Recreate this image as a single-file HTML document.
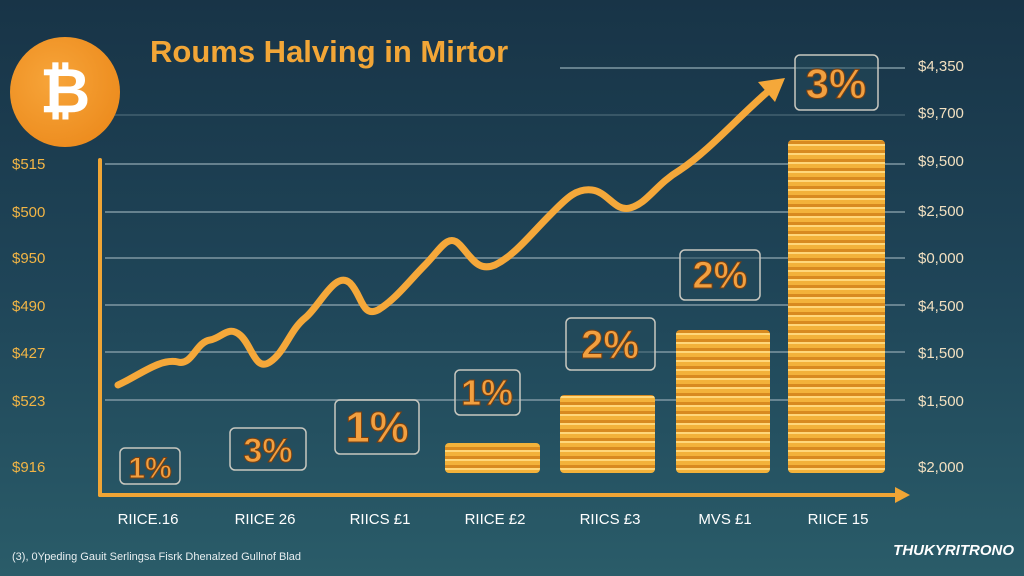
<!DOCTYPE html>
<html><head><meta charset="utf-8"><style>
html,body{margin:0;padding:0;}
body{width:1024px;height:576px;overflow:hidden;background:linear-gradient(180deg,#183447 0%,#1f4558 50%,#2a5c69 100%);font-family:"Liberation Sans",sans-serif;}
svg{position:absolute;left:0;top:0}
</style></head><body>
<svg width="1024" height="576" viewBox="0 0 1024 576">
<defs>
<pattern id="coins" width="10" height="9" patternUnits="userSpaceOnUse">
<rect width="10" height="9" fill="#f3b23a"/>
<rect y="0" width="10" height="2" fill="#ffd77a"/>
<rect y="6" width="10" height="3" fill="#d88a20"/>
</pattern>
<radialGradient id="btc" cx="0.4" cy="0.4" r="0.7"><stop offset="0" stop-color="#f7a53a"/><stop offset="1" stop-color="#ec8a1c"/></radialGradient>
</defs>
<!-- grid -->
<g stroke="#7f98a3" stroke-width="2" opacity="0.75">
<line x1="560" y1="68" x2="905" y2="68"/>
<line x1="105" y1="164" x2="905" y2="164"/>
<line x1="105" y1="212" x2="905" y2="212"/>
<line x1="105" y1="258" x2="905" y2="258"/>
<line x1="105" y1="305" x2="905" y2="305"/>
<line x1="105" y1="352" x2="905" y2="352"/>
<line x1="105" y1="400" x2="905" y2="400"/>
<line x1="105" y1="115" x2="905" y2="115" opacity="0.4"/>
</g>
<!-- bitcoin -->
<circle cx="65" cy="92" r="55" fill="url(#btc)"/>
<text x="65" y="112" font-size="62" font-weight="bold" fill="#fff" text-anchor="middle" font-family="Liberation Sans">₿</text>
<text x="150" y="62" font-size="31" font-weight="bold" fill="#f2a637">Roums Halving in Mirtor</text>
<!-- axes -->
<g stroke="#f0a535" stroke-width="4" fill="none" stroke-linecap="round">
<line x1="100" y1="160" x2="100" y2="495"/>
<line x1="100" y1="495" x2="900" y2="495"/>
</g>
<polygon points="910,495 895,487 895,503" fill="#f0a535"/>
<!-- left labels -->
<g font-size="15" fill="#f2b545">
<text x="12" y="169">$515</text><text x="12" y="217">$500</text><text x="12" y="263">$950</text>
<text x="12" y="311">$490</text><text x="12" y="358">$427</text><text x="12" y="406">$523</text>
<text x="12" y="472">$916</text>
</g>
<g font-size="15" fill="#f2e0c0">
<text x="918" y="71">$4,350</text><text x="918" y="118">$9,700</text><text x="918" y="166">$9,500</text>
<text x="918" y="216">$2,500</text><text x="918" y="263">$0,000</text><text x="918" y="311">$4,500</text>
<text x="918" y="358">$1,500</text><text x="918" y="406">$1,500</text><text x="918" y="472">$2,000</text>
</g>
<!-- x labels -->
<g font-size="15" fill="#fff" text-anchor="middle">
<text x="148" y="524">RIICE.16</text><text x="265" y="524">RIICE 26</text><text x="380" y="524">RIICS £1</text>
<text x="495" y="524">RIICE £2</text><text x="610" y="524">RIICS £3</text><text x="725" y="524">MVS £1</text>
<text x="838" y="524">RIICE 15</text>
</g>
<!-- stacks -->
<rect x="445" y="443" width="95" height="30" rx="4" fill="url(#coins)"/>
<rect x="560" y="395" width="95" height="78" rx="4" fill="url(#coins)"/>
<rect x="676" y="330" width="94" height="143" rx="4" fill="url(#coins)"/>
<rect x="788" y="140" width="97" height="333" rx="4" fill="url(#coins)"/>
<!-- percent boxes -->
<g stroke="#c8c8c0" stroke-width="1.5" fill="#24495a" fill-opacity="0.5">
<rect x="120" y="448" width="60" height="36" rx="5"/>
<rect x="230" y="428" width="76" height="42" rx="5"/>
<rect x="335" y="400" width="84" height="54" rx="5"/>
<rect x="455" y="370" width="65" height="45" rx="5"/>
<rect x="566" y="318" width="89" height="52" rx="5"/>
<rect x="680" y="250" width="80" height="50" rx="5"/>
<rect x="795" y="55" width="83" height="55" rx="5"/>
</g>
<g font-weight="bold" fill="#f2a040" stroke="#7a4010" stroke-width="1" text-anchor="middle">
<text x="150" y="478" font-size="30">1%</text>
<text x="268" y="462" font-size="34">3%</text>
<text x="377" y="442" font-size="44">1%</text>
<text x="487" y="405" font-size="36">1%</text>
<text x="610" y="358" font-size="40">2%</text>
<text x="720" y="288" font-size="38">2%</text>
<text x="836" y="98" font-size="42">3%</text>
</g>
<!-- trend line -->
<path d="M118,385 C140,375 160,358 178,362 C192,366 196,342 210,340 C222,338 228,325 240,335 C252,345 255,372 270,362 C285,352 290,330 305,318 C320,306 335,270 350,283 C362,295 362,318 378,310 C395,300 410,280 425,265 C440,250 448,232 460,245 C472,258 478,272 495,265 C515,255 530,235 550,215 C565,200 575,188 592,190 C608,192 615,212 630,208 C648,203 655,185 680,170 C710,150 740,115 772,88" fill="none" stroke="#f5a83a" stroke-width="7" stroke-linecap="round"/>
<polygon points="785,78 758,82 775,102" fill="#f5a83a"/>
<!-- footer -->
<text x="12" y="560" font-size="11" fill="#e8eef0">(3), 0Ypeding Gauit Serlingsa Fisrk Dhenalzed Gullnof Blad</text>
<text x="1014" y="555" font-size="15" font-weight="bold" font-style="italic" fill="#fff" text-anchor="end">THUKYRITRONO</text>
</svg>
</body></html>
